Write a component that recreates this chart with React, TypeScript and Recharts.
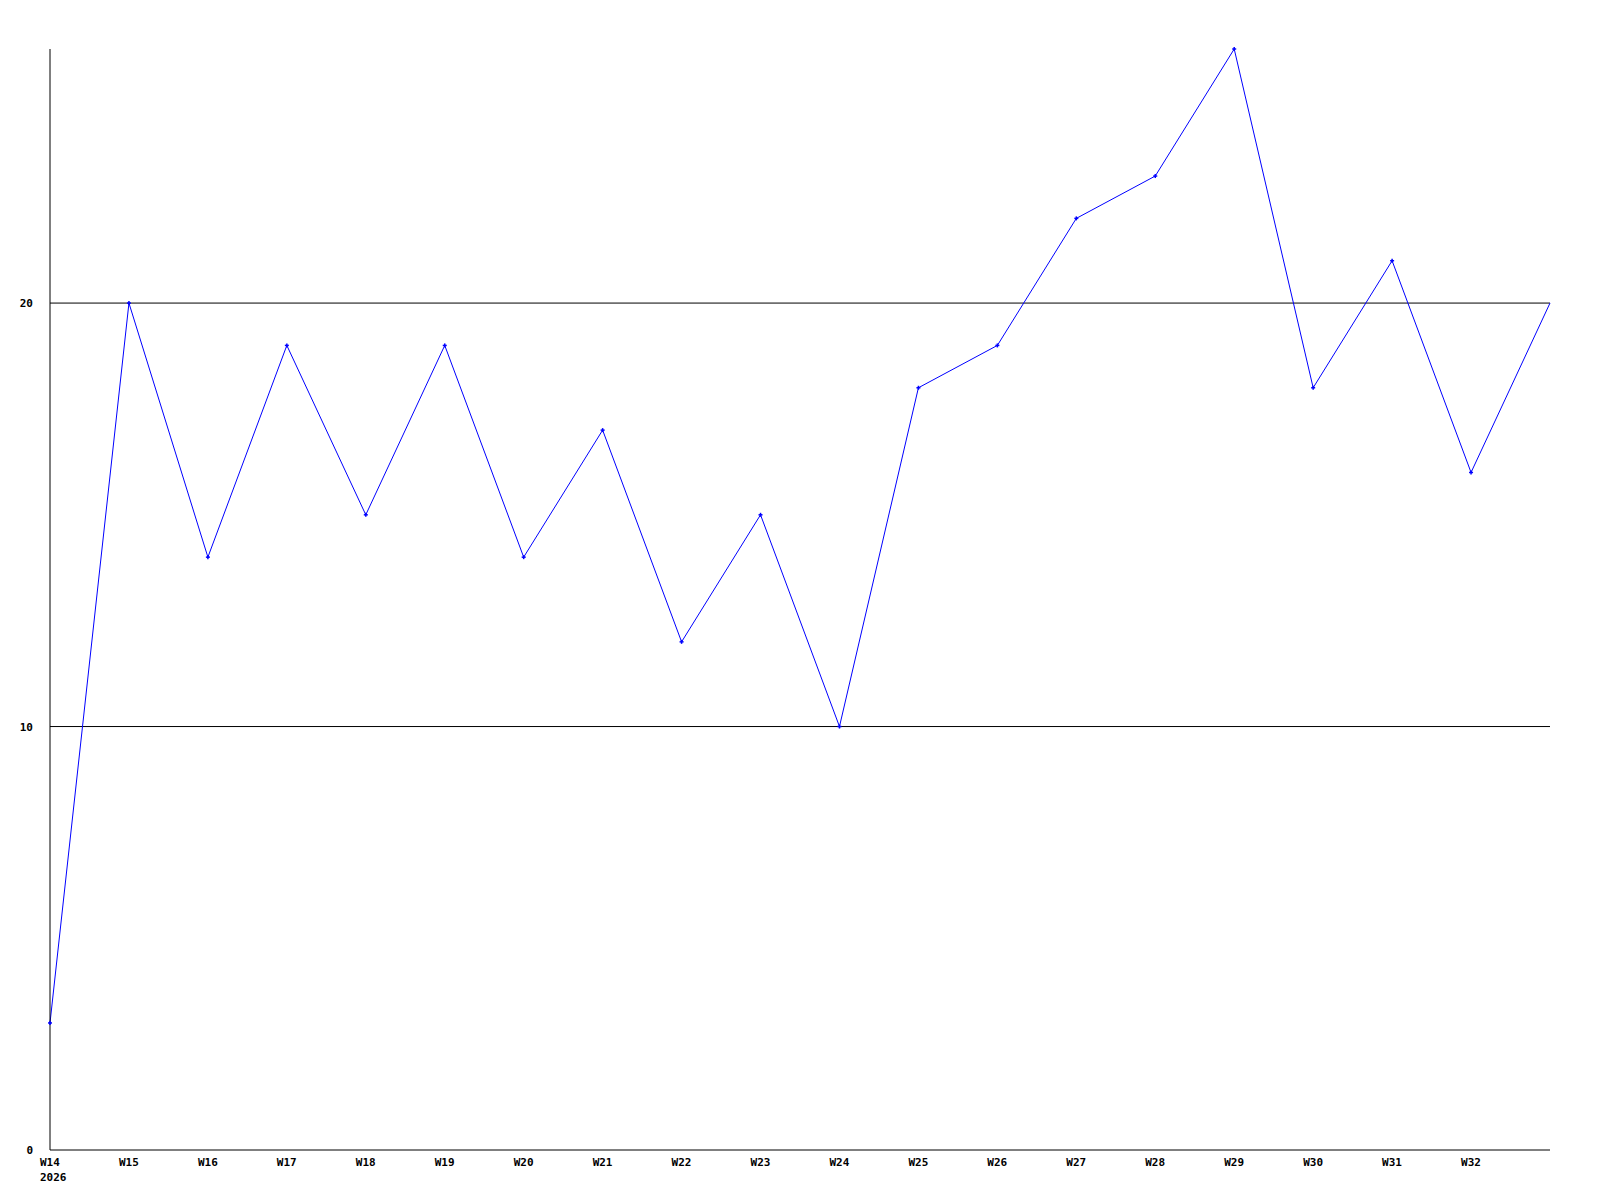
import { LineChart, Line, XAxis, YAxis, CartesianGrid } from "recharts";

const weeks = [
  "W14", "W15", "W16", "W17", "W18", "W19", "W20", "W21", "W22", "W23",
  "W24", "W25", "W26", "W27", "W28", "W29", "W30", "W31", "W32", "",
];
const values = [3, 20, 14, 19, 15, 19, 14, 17, 12, 15, 10, 18, 19, 22, 23, 26, 18, 21, 16, 20];
const yTicks = [0, 10, 20];
const gridValues = [10, 20];
const firstYear = "2026";

const data = weeks.map((week, i) => ({ week, value: values[i] }));

const FONT = "'DejaVu Sans Mono', 'Liberation Mono', monospace";

function WeekTick(props: any) {
  const { x, y, payload, index } = props;
  return (
    <g>
      <text
        x={x - 10}
        y={y + 8}
        fontFamily={FONT}
        fontWeight="bold"
        fontSize={11}
        fill="#000"
        textAnchor="start"
      >
        {payload.value}
      </text>
      {index === 0 && (
        <text
          x={x - 10}
          y={y + 23}
          fontFamily={FONT}
          fontWeight="bold"
          fontSize={11}
          fill="#000"
          textAnchor="start"
        >
          {firstYear}
        </text>
      )}
    </g>
  );
}

function ValueTick(props: any) {
  const { y, payload } = props;
  return (
    <text
      x={33}
      y={y + 4}
      fontFamily={FONT}
      fontWeight="bold"
      fontSize={11}
      fill="#000"
      textAnchor="end"
    >
      {payload.value}
    </text>
  );
}

function PlusDot(props: any) {
  const { cx, cy, index } = props;
  if (index === values.length - 1) return <g key={index} />;
  return (
    <g key={index}>
      <line x1={cx - 2} y1={cy} x2={cx + 2} y2={cy} stroke="#0000ff" strokeWidth={1.5} />
      <line x1={cx} y1={cy - 2} x2={cx} y2={cy + 2} stroke="#0000ff" strokeWidth={1.5} />
    </g>
  );
}

export default function App() {
  return (
    <div style={{ position: "absolute", left: 0, top: 0, width: 1600, height: 1200, background: "#fff" }}>
      <LineChart
        width={1600}
        height={1200}
        data={data}
        margin={{ top: 49, right: 50, bottom: 0, left: 0 }}
      >
        <CartesianGrid
          horizontal
          vertical={false}
          horizontalValues={gridValues}
          stroke="#000"
          strokeWidth={1}
        />
        <XAxis
          dataKey="week"
          interval={0}
          height={50}
          axisLine={{ stroke: "#000" }}
          tickLine={false}
          tick={<WeekTick />}
        />
        <YAxis
          domain={[0, 26]}
          ticks={yTicks}
          width={50}
          axisLine={{ stroke: "#000" }}
          tickLine={false}
          tick={<ValueTick />}
        />
        <Line
          dataKey="value"
          stroke="#0000ff"
          strokeWidth={1}
          type="linear"
          dot={<PlusDot />}
          activeDot={false}
          isAnimationActive={false}
        />
      </LineChart>
    </div>
  );
}
